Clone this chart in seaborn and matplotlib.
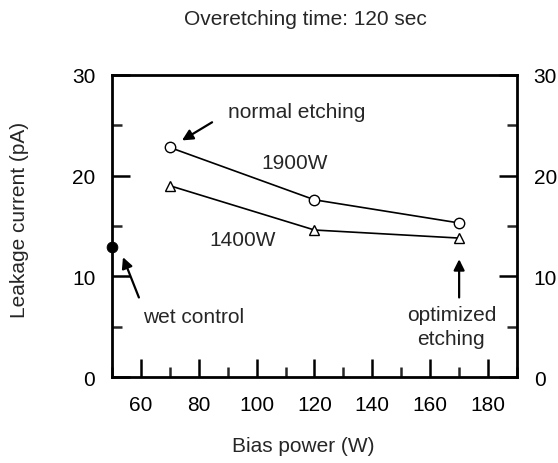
import matplotlib
matplotlib.use("Agg")
import matplotlib.pyplot as plt
import seaborn as sns
import pandas as pd
from matplotlib.ticker import MultipleLocator

bias = [70, 120, 170]
leak_1900 = [22.8, 17.6, 15.3]
leak_1400 = [19.0, 14.6, 13.8]
wet_x = [50]
wet_y = [12.9]
x_ticks = [60, 80, 100, 120, 140, 160, 180]
y_ticks = [0, 10, 20, 30]

sns.set_theme(style="ticks")
plt.rcParams['font.family'] = ['Liberation Sans', 'DejaVu Sans']
FS = 15

df = pd.DataFrame({
    "bias": bias * 2,
    "leak": leak_1900 + leak_1400,
    "source": ["1900W"] * 3 + ["1400W"] * 3,
})

fig = plt.figure(figsize=(5.58, 4.64), dpi=100)
ax = fig.add_axes([0.2007, 0.1853, 0.7258, 0.651])

sns.lineplot(data=df, x="bias", y="leak", hue="source", style="source",
             markers={"1900W": "o", "1400W": "^"}, dashes=False,
             palette={"1900W": "black", "1400W": "black"},
             markerfacecolor="white", markeredgecolor="black", markersize=7.5,
             markeredgewidth=1.0, linewidth=1.2, legend=False, ax=ax)
sns.scatterplot(x=wet_x, y=wet_y, color="black", s=60, ax=ax, zorder=5,
                clip_on=False, edgecolor="black")

ax.set_xlim(50, 190)
ax.set_ylim(0, 30)
ax.set_xticks(x_ticks)
ax.set_yticks(y_ticks)
ax.xaxis.set_minor_locator(MultipleLocator(10))
ax.yaxis.set_minor_locator(MultipleLocator(5))
ax.tick_params(axis="both", which="major", direction="in", length=13, width=1.8,
               labelsize=FS, colors="black")
ax.tick_params(axis="both", which="minor", direction="in", length=7, width=1.8)
ax.tick_params(axis="y", which="both", right=True, labelright=True)
ax.tick_params(axis="y", which="major", pad=12)
ax.tick_params(axis="x", which="major", pad=13)
ax.tick_params(axis="x", which="both", top=False)
for sp in ax.spines.values():
    sp.set_visible(True)
    sp.set_linewidth(2.0)
    sp.set_color("black")

ax.set_xlabel("Bias power (W)", fontsize=FS, va="center")
ax.xaxis.set_label_coords(0.472, -0.228)
ax.set_ylabel("Leakage current (pA)", fontsize=FS, va="center")
ax.yaxis.set_label_coords(-0.228, 0.523)
fig.text(0.547, 0.957, "Overetching time: 120 sec", ha="center", va="center", fontsize=FS)

arrow = dict(arrowstyle="-|>", color="black", lw=1.6, mutation_scale=16,
             shrinkA=0, shrinkB=0)
ax.text(114, 26.4, "normal etching", ha="center", va="center", fontsize=FS)
ax.annotate("", xy=(74.2, 23.5), xytext=(84.6, 25.3), arrowprops=arrow)
ax.text(113.3, 21.35, "1900W", ha="center", va="center", fontsize=FS)
ax.text(95, 13.7, "1400W", ha="center", va="center", fontsize=FS)
ax.annotate("", xy=(53.8, 11.9), xytext=(59.3, 7.9), arrowprops=arrow)
ax.text(78.2, 6.06, "wet control", ha="center", va="center", fontsize=FS)
ax.annotate("", xy=(170, 11.7), xytext=(170, 7.9), arrowprops=arrow)
ax.text(167.3, 5.0, "optimized\netching", ha="center", va="center", fontsize=FS,
        linespacing=1.35)

fig.savefig("out.png", dpi=100)
